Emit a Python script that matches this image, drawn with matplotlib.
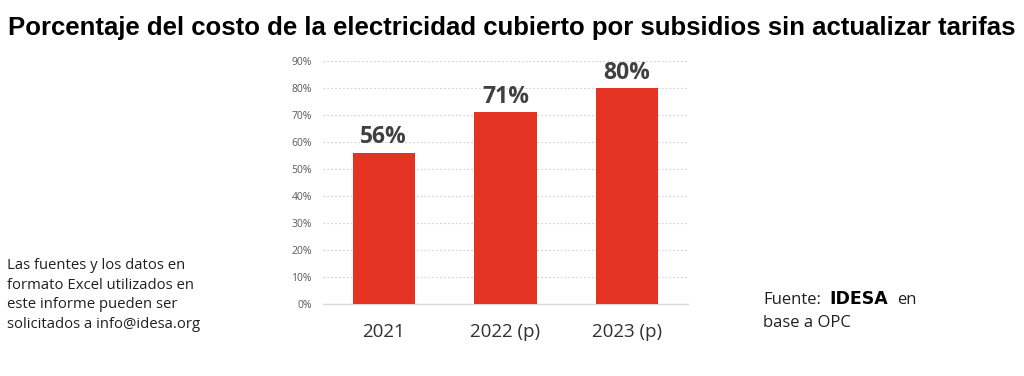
import numpy as np
import matplotlib.pyplot as plt

categories = ['2021', '2022 (p)', '2023 (p)']
values = [0.56, 0.71, 0.80]
value_labels = ['56%', '71%', '80%']
y_ticks = [0.0, 0.1, 0.2, 0.3, 0.4, 0.5, 0.6, 0.7, 0.8, 0.9]

fig = plt.figure(figsize=(10.24, 3.76), dpi=100)
ax = fig.add_axes([0.3154, 0.1915, 0.3565, 0.6463])

x = np.arange(len(categories))
ax.bar(x, values, width=0.51, color='#E53323', zorder=3)

for xi, v, lab in zip(x, values, value_labels):
    ax.annotate(lab, (xi, v), xytext=(0, 2.5), textcoords='offset points',
                ha='center', va='bottom', fontsize=16.5,
                fontweight='bold', color='#404040', family='Open Sans')

ax.set_xlim(-0.5, 2.5)
ax.set_ylim(0, 0.9)
ax.set_yticks(y_ticks)
ax.set_yticklabels([f'{int(round(t*100))}%' for t in y_ticks],
                   fontsize=7.5, color='#595959', family='Open Sans')
ax.set_xticks(x)
ax.set_xticklabels(categories, fontsize=13.5, color='#303030', family='Open Sans')
ax.tick_params(length=0)
ax.tick_params(axis='x', pad=14)
ax.tick_params(axis='y', pad=8)

ax.grid(axis='y', color='#d0d0d0', linestyle=(0, (1.5, 2)), linewidth=0.8, zorder=0)
for s in ['top', 'right', 'left']:
    ax.spines[s].set_visible(False)
ax.spines['bottom'].set_color('#d9d9d9')
ax.spines['bottom'].set_linewidth(1)

fig.text(0.5, 0.925, 'Porcentaje del costo de la electricidad cubierto por subsidios sin actualizar tarifas',
         ha='center', va='center', fontsize=18.5, fontweight='bold',
         family='Liberation Sans', color='black')

fig.text(0.007, 1 - 328 / 376,
         'Las fuentes y los datos en\nformato Excel utilizados en\neste informe pueden ser\nsolicitados a info@idesa.org',
         ha='left', va='baseline', fontsize=10.7, family='Open Sans',
         color='#202020', linespacing=1.42)

fig.text(763 / 1024, 1 - 304 / 376, 'Fuente:', ha='left', va='baseline', fontsize=12,
         family='Open Sans', color='#202020')
fig.text(829 / 1024, 1 - 304 / 376, 'IDESA', ha='left', va='baseline', fontsize=12.5,
         fontweight='bold', family='DejaVu Sans', color='black')
fig.text(897 / 1024, 1 - 304 / 376, 'en', ha='left', va='baseline', fontsize=12,
         family='Open Sans', color='#202020')
fig.text(763 / 1024, 1 - 327 / 376, 'base a OPC', ha='left', va='baseline', fontsize=12,
         family='Open Sans', color='#202020')

fig.savefig('out.png', dpi=100)
